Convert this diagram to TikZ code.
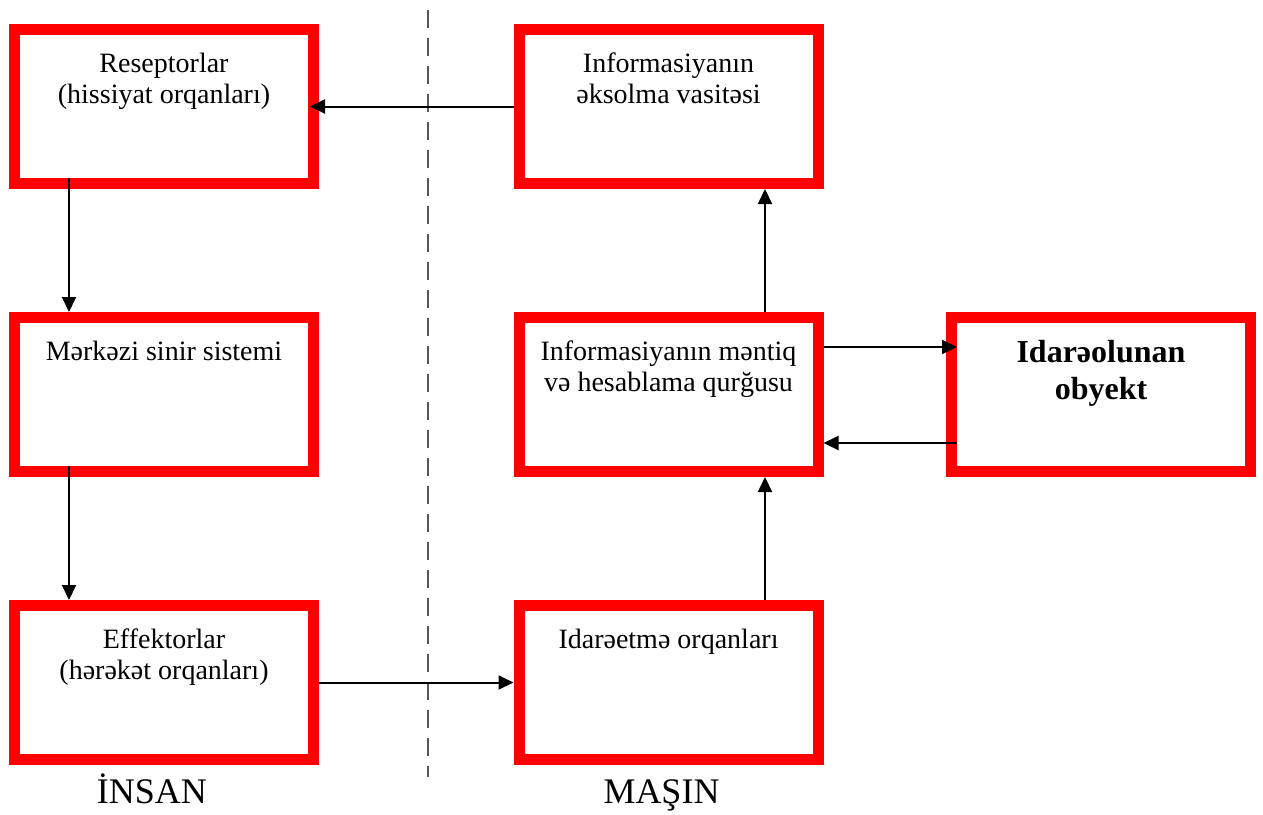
\documentclass[tikz,border=0pt]{standalone}
\usepackage{fontspec}
\setmainfont{Liberation Serif}
\usetikzlibrary{arrows.meta}

\begin{document}
\begin{tikzpicture}[x=0.5pt,y=-0.5pt,
    box/.style={rectangle,draw=red,line width=5.5pt,fill=white,
      minimum width=149.5pt,minimum height=77pt,inner sep=0pt},
    boxtext/.style={anchor=north,yshift=-14.1pt,inner sep=0pt,align=center,
      font=\fontsize{14}{15.5}\selectfont},
    boldtext/.style={boxtext,font=\fontsize{16}{18.3}\selectfont\bfseries},
    link/.style={-{Triangle[length=7.5pt,width=7pt]},line width=1pt}]

\useasboundingbox (0,0) rectangle (1263,814);

% Divider between human and machine
\draw[line width=1pt,black!65,dash pattern=on 9pt off 5pt] (428,10) -- (428,777);

% Human side
\node[box,label={[boxtext]north:{Reseptorlar\\(hissiyat orqanları)}}] (rec) at (164,106.5) {};
\node[box,label={[boxtext]north:{Mərkəzi sinir sistemi}}] (mss) at (164,394.5) {};
\node[box,label={[boxtext]north:{Effektorlar\\(hərəkət orqanları)}}] (eff) at (164,682.5) {};

% Machine side
\node[box,label={[boxtext]north:{Informasiyanın\\əksolma vasitəsi}}] (eks) at (668.5,106.5) {};
\node[box,label={[boxtext]north:{Informasiyanın məntiq\\və hesablama qurğusu}}] (hes) at (668.5,394.5) {};
\node[box,label={[boxtext]north:{Idarəetmə orqanları}}] (ida) at (668.5,682.5) {};
\node[box,label={[boldtext]north:{Idarəolunan\\obyekt}}] (obj) at (1101,394.5) {};

% Side labels
\node[anchor=base,font=\fontsize{18}{20}\selectfont] (insan) at (152,803) {İNSAN};
\node[anchor=base,font=\fontsize{18}{20}\selectfont] (masin) at (661.5,803) {MAŞIN};

% Connectors
\draw[link,shorten >=-4.5pt] (eks.west) -- (rec.east);
\draw[link,shorten <=-5.5pt] ([xshift=-47.5pt]rec.south) -- ([xshift=-47.5pt]mss.north);
\draw[link,shorten <=-5.5pt] ([xshift=-47.5pt]mss.south) -- ([xshift=-47.5pt]eff.north);
\draw[link] (eff.east) -- (ida.west);
\draw[link] ([xshift=48.25pt]ida.north) -- ([xshift=48.25pt]hes.south);
\draw[link] ([xshift=48.25pt]hes.north) -- ([xshift=48.25pt]eks.south);
\draw[link,shorten >=-5.5pt] ([yshift=23.75pt]hes.east) -- ([yshift=23.75pt]obj.west);
\draw[link,shorten <=-5.5pt] ([yshift=-24.25pt]obj.west) -- ([yshift=-24.25pt]hes.east);

\end{tikzpicture}
\end{document}
